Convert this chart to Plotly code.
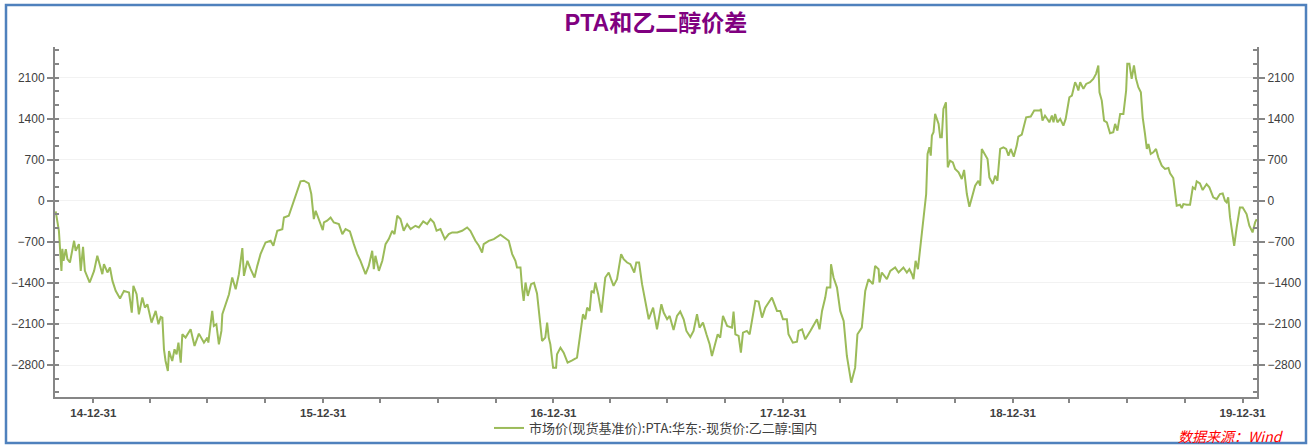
import pandas as pd
import plotly.graph_objects as go

# ---- data (decimal year, spread in CNY/t) ----
t_years = [
    2014.836, 2014.850, 2014.861, 2014.865, 2014.870, 2014.880, 2014.887, 2014.898, 2014.916, 2014.923,
    2014.937, 2014.945, 2014.955, 2014.963, 2014.984, 2015.003, 2015.017, 2015.039, 2015.046, 2015.061,
    2015.072, 2015.083, 2015.097, 2015.116, 2015.133, 2015.155, 2015.167, 2015.174, 2015.188, 2015.198,
    2015.213, 2015.224, 2015.235, 2015.253, 2015.271, 2015.283, 2015.293, 2015.300, 2015.307, 2015.314,
    2015.324, 2015.329, 2015.343, 2015.353, 2015.362, 2015.370, 2015.380, 2015.387, 2015.401, 2015.423,
    2015.440, 2015.459, 2015.481, 2015.496, 2015.500, 2015.517, 2015.524, 2015.535, 2015.546, 2015.557,
    2015.561, 2015.575, 2015.590, 2015.604, 2015.619, 2015.633, 2015.648, 2015.655, 2015.670, 2015.684,
    2015.701, 2015.713, 2015.727, 2015.749, 2015.771, 2015.783, 2015.800, 2015.822, 2015.829, 2015.850,
    2015.872, 2015.887, 2015.901, 2015.916, 2015.937, 2015.948, 2015.959, 2015.967, 2015.981, 2015.998,
    2016.003, 2016.017, 2016.032, 2016.046, 2016.068, 2016.083, 2016.097, 2016.116, 2016.133, 2016.148,
    2016.162, 2016.184, 2016.198, 2016.213, 2016.220, 2016.227, 2016.242, 2016.257, 2016.271, 2016.285,
    2016.300, 2016.310, 2016.322, 2016.336, 2016.350, 2016.365, 2016.380, 2016.401, 2016.416, 2016.435,
    2016.452, 2016.467, 2016.481, 2016.493, 2016.510, 2016.529, 2016.546, 2016.561, 2016.583, 2016.604,
    2016.626, 2016.640, 2016.662, 2016.677, 2016.691, 2016.698, 2016.720, 2016.742, 2016.771, 2016.785,
    2016.807, 2016.822, 2016.836, 2016.843, 2016.858, 2016.865, 2016.872, 2016.880, 2016.890, 2016.904,
    2016.917, 2016.930, 2016.937, 2016.952, 2016.966, 2016.974, 2016.981, 2016.988, 2017.000, 2017.013,
    2017.017, 2017.032, 2017.046, 2017.063, 2017.083, 2017.104, 2017.116, 2017.130, 2017.140, 2017.148,
    2017.159, 2017.167, 2017.177, 2017.184, 2017.196, 2017.210, 2017.227, 2017.242, 2017.252, 2017.263,
    2017.278, 2017.296, 2017.307, 2017.322, 2017.336, 2017.353, 2017.362, 2017.374, 2017.387, 2017.401,
    2017.416, 2017.435, 2017.452, 2017.471, 2017.481, 2017.496, 2017.507, 2017.524, 2017.539, 2017.553,
    2017.568, 2017.580, 2017.597, 2017.611, 2017.626, 2017.637, 2017.652, 2017.667, 2017.681, 2017.691,
    2017.706, 2017.716, 2017.727, 2017.739, 2017.757, 2017.778, 2017.785, 2017.793, 2017.807, 2017.817,
    2017.826, 2017.843, 2017.855, 2017.865, 2017.880, 2017.894, 2017.909, 2017.923, 2017.937, 2017.952,
    2017.974, 2017.988, 2018.000, 2018.017, 2018.024, 2018.043, 2018.061, 2018.068, 2018.083, 2018.097,
    2018.119, 2018.148, 2018.159, 2018.170, 2018.184, 2018.191, 2018.206, 2018.209, 2018.220, 2018.235,
    2018.249, 2018.264, 2018.278, 2018.297, 2018.314, 2018.324, 2018.343, 2018.358, 2018.372, 2018.391,
    2018.401, 2018.416, 2018.420, 2018.430, 2018.452, 2018.467, 2018.488, 2018.503, 2018.524, 2018.539,
    2018.550, 2018.561, 2018.568, 2018.577, 2018.587, 2018.594, 2018.604, 2018.614, 2018.623, 2018.629,
    2018.637, 2018.643, 2018.648, 2018.655, 2018.662, 2018.677, 2018.684, 2018.691, 2018.698, 2018.709,
    2018.717, 2018.727, 2018.739, 2018.749, 2018.764, 2018.778, 2018.788, 2018.800, 2018.811, 2018.822,
    2018.836, 2018.850, 2018.858, 2018.865, 2018.880, 2018.890, 2018.898, 2018.913, 2018.923, 2018.933,
    2018.945, 2018.959, 2018.971, 2018.981, 2018.991, 2019.004, 2019.017, 2019.024, 2019.039, 2019.058,
    2019.078, 2019.093, 2019.119, 2019.122, 2019.129, 2019.140, 2019.150, 2019.159, 2019.170, 2019.177,
    2019.184, 2019.194, 2019.206, 2019.220, 2019.230, 2019.237, 2019.246, 2019.257, 2019.264, 2019.271,
    2019.278, 2019.285, 2019.293, 2019.307, 2019.319, 2019.336, 2019.350, 2019.362, 2019.372, 2019.377,
    2019.387, 2019.397, 2019.409, 2019.423, 2019.437, 2019.445, 2019.455, 2019.467, 2019.481, 2019.493,
    2019.498, 2019.507, 2019.517, 2019.527, 2019.536, 2019.546, 2019.557, 2019.565, 2019.575, 2019.583,
    2019.590, 2019.600, 2019.611, 2019.623, 2019.633, 2019.648, 2019.662, 2019.677, 2019.684, 2019.698,
    2019.713, 2019.727, 2019.735, 2019.742, 2019.757, 2019.771, 2019.783, 2019.793, 2019.800, 2019.814,
    2019.826, 2019.843, 2019.855, 2019.872, 2019.887, 2019.901, 2019.913, 2019.923, 2019.930, 2019.937,
    2019.945, 2019.957, 2019.963, 2019.974, 2019.988, 2020.000, 2020.017, 2020.029, 2020.043, 2020.054,
    2020.061,
]

spread = [
    -180, -512, -1195, -820, -1024, -825, -995, -1053, -683, -853,
    -740, -1195, -785, -1195, -1394, -1195, -939, -1252, -1081, -1223,
    -1138, -1366, -1536, -1667, -1536, -1564, -1906, -1451, -1593, -1935,
    -1650, -1821, -1764, -2077, -1878, -2105, -1980, -1992, -2532, -2731,
    -2902, -2561, -2731, -2532, -2617, -2419, -2760, -2276, -2333, -2191,
    -2475, -2265, -2419, -2333, -2419, -1878, -2134, -2105, -2447, -2219,
    -1935, -1764, -1593, -1309, -1508, -1252, -808, -1280, -1024, -1167,
    -1309, -1110, -911, -711, -683, -768, -512, -484, -285, -256,
    0, 142, 330, 341, 296, 114, -313, -171, -313, -500,
    -370, -341, -285, -370, -398, -569, -484, -524, -740, -910,
    -1024, -1252, -1110, -853, -1167, -939, -1195, -1024, -740, -654,
    -512, -569, -256, -313, -512, -398, -484, -427, -455, -353,
    -398, -313, -370, -512, -484, -654, -569, -540, -540, -512,
    -455, -512, -683, -768, -882, -740, -683, -654, -580, -626,
    -683, -910, -1024, -1138, -1138, -1480, -1707, -1394, -1622, -1422,
    -1400, -1580, -1821, -2390, -2333, -2077, -2333, -2447, -2845, -2845,
    -2617, -2504, -2589, -2760, -2720, -2675, -2333, -1935, -2020, -1821,
    -1878, -1536, -1564, -1394, -1593, -1906, -1309, -1223, -1337, -1451,
    -1337, -910, -995, -1053, -1081, -1223, -1053, -1053, -1422, -1707,
    -2020, -1821, -2191, -1764, -1906, -2020, -1963, -2202, -1963, -1889,
    -2020, -2219, -2322, -2219, -1935, -2162, -2077, -2276, -2447, -2646,
    -2419, -2276, -2333, -1963, -2134, -2162, -1889, -2276, -2305, -2589,
    -2248, -2219, -2276, -2049, -1707, -1719, -1992, -1821, -1736, -1650,
    -1878, -1878, -2020, -2020, -2276, -2419, -2402, -2219, -2191, -2362,
    -2219, -2020, -2191, -1878, -1650, -1480, -1480, -1081, -1309, -1480,
    -1878, -2049, -2646, -3101, -2845, -2276, -2162, -1536, -1337, -1422,
    -1110, -1167, -1394, -1223, -1337, -1195, -1138, -1223, -1138, -1223,
    -1167, -1252, -1337, -1024, -1167, -910, -597, -114, 114, 797,
    911, 768, 1110, 1166, 1480, 1309, 1081, 1081, 1565, 1678,
    569, 683, 654, 541, 483, 370, 524, 114, -102, 57,
    256, 341, 256, 882, 768, 712, 398, 285, 427, 341,
    882, 910, 882, 768, 882, 751, 939, 1093, 1127, 1422,
    1434, 1536, 1536, 1565, 1366, 1451, 1394, 1337, 1451, 1337,
    1480, 1337, 1394, 1280, 1394, 1536, 1763, 1792, 1934, 2020,
    1963, 1878, 2020, 1906, 1991, 2020, 2077, 2162, 2305, 1849,
    1707, 1366, 1337, 1149, 1166, 1309, 1195, 1480, 1480, 1878,
    2333, 2333, 2077, 2305, 2077, 1934, 1849, 1422, 1138, 882,
    968, 797, 825, 882, 740, 597, 541, 558, 466, 387,
    -85, -68, -125, -57, -68, -68, 228, 200, 330, 296,
    182, 284, 228, 57, 28, 114, 125, 0, -28, 57,
    -284, -569, -768, -455, -114, -114, -228, -427, -540, -370,
    -313,
]

tick_dates = ["2014-12-31", "2015-12-31", "2016-12-31", "2017-12-31", "2018-12-31", "2019-12-31"]
tick_labels = ["14-12-31", "15-12-31", "16-12-31", "17-12-31", "18-12-31", "19-12-31"]
y_ticks = [-2800, -2100, -1400, -700, 0, 700, 1400, 2100]

series_name = "市场价(现货基准价):PTA:华东:-现货价:乙二醇:国内"
title_text = "PTA和乙二醇价差"
source_text = "数据来源：Wind"

base = pd.Timestamp("2014-12-31")
dates = [base + pd.Timedelta(days=(t - 2015) * 365.25) for t in t_years]

LINE = "#9BBB59"
AXIS = "#868686"
TXT = "#404040"
FONT = "Liberation Sans, Noto Sans CJK SC"

fig = go.Figure()
fig.add_trace(go.Scatter(x=dates, y=spread, mode="lines", name=series_name,
                         line=dict(color=LINE, width=2)))
fig.add_trace(go.Scatter(x=dates, y=spread, mode="lines", yaxis="y2", showlegend=False,
                         hoverinfo="skip", line=dict(color="rgba(0,0,0,0)", width=0)))

yrange = [-3345, 2620]
yax = dict(range=yrange, tickmode="array", tickvals=y_ticks, ticks="outside", ticklen=6,
           tickwidth=1.5, tickcolor=AXIS, showline=True, linecolor=AXIS, linewidth=2,
           showgrid=True, gridcolor="#F2F2F2", gridwidth=1, zeroline=False,
           tickfont=dict(family=FONT, size=12, color=TXT),
           minor=dict(dtick=700 / 3, tick0=0, ticks="inside", ticklen=4, tickcolor=AXIS,
                      tickwidth=1.5, showgrid=False))

fig.update_layout(
    width=1309, height=446,
    margin=dict(l=55, r=52, t=47, b=49, autoexpand=False),
    paper_bgcolor="white", plot_bgcolor="white",
    title=dict(text="<b>" + title_text + "</b>", x=0.5, xref="paper", xanchor="center",
               y=1 - 23 / 446, yanchor="middle",
               font=dict(family=FONT, size=23, color="#800080")),
    xaxis=dict(type="date", range=["2014-10-31", "2020-01-23"], tickmode="array",
               tickvals=tick_dates, ticktext=tick_labels, ticks="outside", ticklen=4,
               tickwidth=1.5, tickcolor=AXIS, showline=True, linecolor=AXIS, linewidth=2,
               showgrid=False, zeroline=False,
               tickfont=dict(family=FONT, size=11.5, color=TXT, weight="bold"),
               minor=dict(dtick="M3", tick0="2014-12-31", ticks="outside", ticklen=4,
                          tickcolor=AXIS, tickwidth=1.5, showgrid=False)),
    yaxis=yax,
    yaxis2=dict(yax, overlaying="y", side="right", showgrid=False),
    legend=dict(orientation="h", x=0.5, xanchor="center", y=-31 / 350, yanchor="middle",
                font=dict(family="Noto Sans CJK SC", size=13, color=TXT),
                bgcolor="rgba(0,0,0,0)"),
    showlegend=True,
)

fig.add_annotation(text="<i>" + source_text + "</i>", xref="paper", yref="paper",
                   x=(1286 - 55) / 1202, y=(397 - 436) / 350, xanchor="right", yanchor="middle",
                   showarrow=False, font=dict(family="Noto Sans CJK SC", size=14, color="#FF0000"))

fig.add_shape(type="rect", xref="paper", yref="paper",
              x0=(6 - 55) / 1202, x1=(1306 - 55) / 1202,
              y0=(397 - 443) / 350, y1=(397 - 5) / 350,
              line=dict(color="#4F81BD", width=2.5), fillcolor="rgba(0,0,0,0)", layer="above")

fig.write_html("out.html", config={"displayModeBar": False},
               post_script="document.body.style.margin='0';document.body.style.overflow='hidden';")
